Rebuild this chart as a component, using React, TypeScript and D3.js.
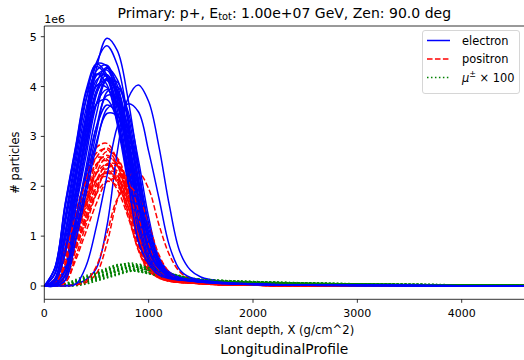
import React from 'react';
import * as d3 from 'd3';

// slant depth grid (g/cm^2) shared by all profiles
const X_GRID = [0, 100, 200, 300, 400, 500, 600, 700, 800, 900, 1000, 1100, 1200, 1300, 1400, 1500, 1700, 2000, 2500, 3000, 3500, 4000, 4600];

// electron profiles, units of 1e6 particles
const ELECTRON = [
  [0, 0.05, 0.40, 1.84, 3.13, 4.37, 4.97, 4.72, 3.78, 2.44, 1.04, 0.50, 0.25, 0.17, 0.14, 0.11, 0.07, 0.04, 0.022, 0.014, 0.010, 0.007, 0.005],
  [0, 0.10, 0.78, 2.12, 3.38, 4.48, 4.82, 4.43, 3.38, 2.02, 0.85, 0.41, 0.22, 0.16, 0.13, 0.10, 0.065, 0.038, 0.021, 0.013, 0.009, 0.006, 0.004],
  [0, 0.25, 1.39, 2.57, 3.73, 4.46, 4.41, 3.71, 2.55, 1.25, 0.55, 0.27, 0.17, 0.14, 0.11, 0.09, 0.06, 0.034, 0.019, 0.012, 0.008, 0.006, 0.004],
  [0, 0.14, 1.08, 2.25, 3.42, 4.32, 4.43, 3.92, 2.84, 1.53, 0.63, 0.32, 0.19, 0.14, 0.11, 0.09, 0.06, 0.035, 0.02, 0.013, 0.009, 0.006, 0.004],
  [0, 0.36, 1.65, 2.80, 3.92, 4.45, 4.23, 3.38, 2.18, 0.93, 0.45, 0.22, 0.16, 0.12, 0.10, 0.08, 0.055, 0.032, 0.018, 0.012, 0.008, 0.005, 0.003],
  [0, 0.09, 0.71, 1.92, 3.07, 4.07, 4.38, 4.02, 3.07, 1.83, 0.77, 0.38, 0.20, 0.15, 0.12, 0.09, 0.06, 0.035, 0.02, 0.013, 0.009, 0.006, 0.004],
  [0, 0.13, 1.06, 2.20, 3.34, 4.22, 4.33, 3.83, 2.77, 1.50, 0.62, 0.31, 0.18, 0.14, 0.11, 0.09, 0.06, 0.034, 0.02, 0.012, 0.008, 0.006, 0.004],
  [0, 0.04, 0.35, 1.61, 2.75, 3.84, 4.36, 4.14, 3.31, 2.14, 0.92, 0.44, 0.22, 0.15, 0.12, 0.10, 0.065, 0.037, 0.021, 0.013, 0.009, 0.006, 0.004],
  [0, 0.24, 1.32, 2.45, 3.55, 4.24, 4.20, 3.53, 2.42, 1.19, 0.52, 0.26, 0.16, 0.13, 0.10, 0.08, 0.055, 0.032, 0.018, 0.012, 0.008, 0.005, 0.003],
  [0, 0.13, 1.03, 2.15, 3.27, 4.13, 4.24, 3.74, 2.71, 1.46, 0.60, 0.30, 0.18, 0.13, 0.11, 0.09, 0.06, 0.034, 0.02, 0.012, 0.008, 0.006, 0.004],
  [0, 0, 0.01, 0.04, 0.13, 0.36, 1.20, 2.70, 3.75, 4.03, 3.70, 2.78, 1.60, 0.68, 0.32, 0.18, 0.09, 0.05, 0.028, 0.017, 0.011, 0.008, 0.005],
  [0, 0.09, 0.68, 1.86, 2.97, 3.93, 4.23, 3.89, 2.97, 1.77, 0.75, 0.36, 0.20, 0.14, 0.12, 0.09, 0.06, 0.034, 0.019, 0.012, 0.008, 0.005, 0.003],
  [0, 0.34, 1.57, 2.68, 3.74, 4.25, 4.04, 3.23, 2.08, 0.89, 0.43, 0.21, 0.15, 0.12, 0.09, 0.08, 0.05, 0.03, 0.017, 0.011, 0.008, 0.005, 0.003],
  [0, 0.02, 0.23, 1.29, 2.38, 3.46, 4.14, 4.09, 3.44, 2.36, 1.16, 0.51, 0.25, 0.16, 0.13, 0.10, 0.065, 0.037, 0.021, 0.013, 0.009, 0.006, 0.004],
  [0, 0.13, 1.00, 2.09, 3.18, 4.01, 4.12, 3.64, 2.63, 1.42, 0.59, 0.29, 0.18, 0.13, 0.10, 0.08, 0.055, 0.032, 0.018, 0.012, 0.008, 0.005, 0.003],
  [0, 0.04, 0.33, 1.54, 2.61, 3.65, 4.15, 3.94, 3.15, 2.03, 0.87, 0.42, 0.21, 0.15, 0.12, 0.09, 0.06, 0.035, 0.02, 0.013, 0.009, 0.006, 0.004],
  [0, 0.23, 1.25, 2.32, 3.36, 4.02, 3.98, 3.34, 2.30, 1.13, 0.49, 0.25, 0.16, 0.12, 0.10, 0.08, 0.05, 0.03, 0.017, 0.011, 0.007, 0.005, 0.003],
  [0, 0, 0.12, 0.97, 2.03, 3.08, 3.89, 3.99, 3.52, 2.55, 1.38, 0.57, 0.28, 0.17, 0.13, 0.10, 0.065, 0.037, 0.021, 0.013, 0.009, 0.006, 0.004],
  [0, 0.08, 0.64, 1.73, 2.77, 3.66, 3.94, 3.62, 2.77, 1.65, 0.70, 0.34, 0.18, 0.13, 0.11, 0.08, 0.055, 0.032, 0.018, 0.012, 0.008, 0.005, 0.003],
  [0, 0.02, 0.21, 1.19, 2.20, 3.20, 3.82, 3.78, 3.18, 2.18, 1.07, 0.47, 0.23, 0.15, 0.12, 0.09, 0.06, 0.035, 0.02, 0.013, 0.009, 0.006, 0.004],
  [0, 0.11, 0.91, 1.90, 2.89, 3.65, 3.74, 3.31, 2.39, 1.29, 0.53, 0.27, 0.16, 0.12, 0.10, 0.08, 0.05, 0.03, 0.017, 0.011, 0.007, 0.005, 0.003],
  [0, 0.04, 0.29, 1.34, 2.29, 3.19, 3.63, 3.45, 2.76, 1.78, 0.76, 0.36, 0.18, 0.13, 0.10, 0.08, 0.05, 0.03, 0.017, 0.011, 0.007, 0.005, 0.003],
  [0, 0.02, 0.19, 1.08, 1.99, 2.89, 3.46, 3.42, 2.88, 1.98, 0.97, 0.42, 0.21, 0.13, 0.11, 0.08, 0.05, 0.03, 0.017, 0.011, 0.007, 0.005, 0.003],
  [0, 0.35, 1.63, 2.77, 3.87, 4.40, 4.18, 3.34, 2.16, 0.92, 0.44, 0.22, 0.15, 0.12, 0.10, 0.08, 0.055, 0.032, 0.018, 0.012, 0.008, 0.005, 0.003],
  [0, 0.08, 0.67, 1.83, 2.92, 3.86, 4.16, 3.82, 2.92, 1.74, 0.74, 0.36, 0.19, 0.14, 0.11, 0.09, 0.06, 0.034, 0.019, 0.012, 0.008, 0.005, 0.003],
  [0, 0, 0.11, 0.89, 1.85, 2.81, 3.55, 3.64, 3.22, 2.33, 1.26, 0.52, 0.26, 0.16, 0.11, 0.09, 0.06, 0.034, 0.019, 0.012, 0.008, 0.005, 0.003],
  [0, 0, 0, 0.03, 0.40, 1.20, 2.20, 3.20, 3.65, 3.50, 2.70, 1.75, 0.80, 0.32, 0.17, 0.12, 0.075, 0.042, 0.023, 0.015, 0.01, 0.007, 0.005],
];

// positron profiles, units of 1e6 particles
const POSITRON = [
  [0, 0.09, 0.70, 1.45, 2.20, 2.78, 2.86, 2.52, 1.83, 0.99, 0.41, 0.20, 0.12, 0.09, 0.07, 0.06, 0.03, 0.016, 0.009, 0.005, 0.003, 0.002, 0.001],
  [0, 0.06, 0.45, 1.22, 1.95, 2.58, 2.77, 2.55, 1.95, 1.16, 0.49, 0.24, 0.13, 0.09, 0.08, 0.06, 0.03, 0.016, 0.009, 0.005, 0.003, 0.002, 0.001],
  [0, 0.03, 0.22, 1.00, 1.70, 2.38, 2.70, 2.57, 2.05, 1.32, 0.57, 0.27, 0.14, 0.09, 0.08, 0.06, 0.03, 0.016, 0.009, 0.005, 0.003, 0.002, 0.001],
  [0, 0.14, 0.80, 1.48, 2.15, 2.57, 2.54, 2.14, 1.47, 0.72, 0.31, 0.16, 0.10, 0.08, 0.06, 0.05, 0.028, 0.015, 0.008, 0.005, 0.003, 0.002, 0.001],
  [0, 0.08, 0.61, 1.28, 1.94, 2.45, 2.51, 2.22, 1.61, 0.87, 0.36, 0.18, 0.11, 0.08, 0.06, 0.05, 0.028, 0.015, 0.008, 0.005, 0.003, 0.002, 0.001],
  [0, 0.01, 0.14, 0.76, 1.41, 2.05, 2.45, 2.43, 2.04, 1.40, 0.69, 0.30, 0.15, 0.10, 0.08, 0.06, 0.03, 0.016, 0.009, 0.005, 0.003, 0.002, 0.001],
  [0, 0.05, 0.39, 1.07, 1.71, 2.26, 2.44, 2.24, 1.71, 1.02, 0.43, 0.21, 0.11, 0.08, 0.07, 0.05, 0.028, 0.015, 0.008, 0.005, 0.003, 0.002, 0.001],
  [0, 0.02, 0.19, 0.90, 1.52, 2.13, 2.42, 2.30, 1.84, 1.19, 0.51, 0.24, 0.12, 0.08, 0.07, 0.05, 0.028, 0.015, 0.008, 0.005, 0.003, 0.002, 0.001],
  [0, 0.07, 0.57, 1.19, 1.81, 2.28, 2.34, 2.07, 1.50, 0.81, 0.33, 0.17, 0.10, 0.07, 0.06, 0.05, 0.028, 0.015, 0.008, 0.005, 0.003, 0.002, 0.001],
  [0, 0.01, 0.13, 0.71, 1.32, 1.92, 2.29, 2.27, 1.91, 1.31, 0.64, 0.28, 0.14, 0.09, 0.07, 0.06, 0.03, 0.016, 0.009, 0.005, 0.003, 0.002, 0.001],
  [0, 0, 0.01, 0.02, 0.07, 0.25, 0.85, 1.72, 2.18, 2.28, 1.95, 1.22, 0.62, 0.28, 0.14, 0.08, 0.04, 0.02, 0.01, 0.006, 0.004, 0.002, 0.001],
  [0, 0.05, 0.37, 1.00, 1.60, 2.12, 2.28, 2.09, 1.60, 0.95, 0.40, 0.20, 0.11, 0.08, 0.06, 0.05, 0.028, 0.015, 0.008, 0.005, 0.003, 0.002, 0.001],
  [0, 0.02, 0.18, 0.84, 1.42, 1.99, 2.26, 2.15, 1.72, 1.11, 0.47, 0.23, 0.11, 0.08, 0.06, 0.05, 0.028, 0.015, 0.008, 0.005, 0.003, 0.002, 0.001],
  [0, 0.07, 0.53, 1.11, 1.69, 2.13, 2.19, 1.93, 1.40, 0.75, 0.31, 0.16, 0.09, 0.07, 0.06, 0.04, 0.025, 0.014, 0.008, 0.005, 0.003, 0.002, 0.001],
  [0, 0, 0.07, 0.52, 1.09, 1.66, 2.09, 2.15, 1.90, 1.37, 0.74, 0.31, 0.15, 0.09, 0.07, 0.05, 0.028, 0.015, 0.008, 0.005, 0.003, 0.002, 0.001],
  [0, 0.05, 0.42, 1.15, 1.84, 2.44, 2.62, 2.41, 1.84, 1.10, 0.46, 0.23, 0.12, 0.09, 0.07, 0.06, 0.03, 0.016, 0.009, 0.005, 0.003, 0.002, 0.001],
  [0, 0, 0.07, 0.59, 1.23, 1.86, 2.35, 2.41, 2.13, 1.54, 0.83, 0.34, 0.17, 0.10, 0.08, 0.06, 0.03, 0.016, 0.009, 0.005, 0.003, 0.002, 0.001],
  [0, 0.02, 0.17, 0.78, 1.32, 1.85, 2.10, 2.00, 1.60, 1.03, 0.44, 0.21, 0.11, 0.07, 0.06, 0.05, 0.025, 0.014, 0.008, 0.005, 0.003, 0.002, 0.001],
  [0, 0.03, 0.21, 0.95, 1.63, 2.27, 2.58, 2.45, 1.96, 1.26, 0.54, 0.26, 0.13, 0.09, 0.07, 0.06, 0.03, 0.016, 0.009, 0.005, 0.003, 0.002, 0.001],
  [0, 0.08, 0.67, 1.39, 2.11, 2.67, 2.74, 2.42, 1.75, 0.95, 0.39, 0.19, 0.12, 0.09, 0.07, 0.06, 0.03, 0.016, 0.009, 0.005, 0.003, 0.002, 0.001],
  [0, 0, 0, 0.02, 0.10, 0.40, 1.05, 1.75, 2.00, 1.80, 1.25, 0.62, 0.27, 0.13, 0.08, 0.06, 0.03, 0.016, 0.009, 0.005, 0.003, 0.002, 0.001],
];

// muon profiles multiplied by 100, units of 1e6
const MUON_X100 = [
  [0, 0, 0.01, 0.06, 0.14, 0.22, 0.30, 0.39, 0.46, 0.44, 0.40, 0.33, 0.26, 0.20, 0.16, 0.14, 0.115, 0.092, 0.064, 0.046, 0.035, 0.025, 0.018],
  [0, 0.004, 0.026, 0.09, 0.17, 0.25, 0.33, 0.41, 0.44, 0.40, 0.35, 0.28, 0.22, 0.17, 0.14, 0.125, 0.108, 0.086, 0.059, 0.043, 0.032, 0.024, 0.018],
  [0, 0, 0.004, 0.025, 0.09, 0.16, 0.24, 0.32, 0.39, 0.42, 0.39, 0.33, 0.26, 0.21, 0.16, 0.14, 0.11, 0.086, 0.061, 0.044, 0.032, 0.024, 0.017],
  [0, 0, 0.01, 0.05, 0.12, 0.19, 0.26, 0.34, 0.40, 0.38, 0.34, 0.28, 0.22, 0.17, 0.14, 0.12, 0.10, 0.08, 0.056, 0.04, 0.03, 0.022, 0.016],
  [0, 0.008, 0.046, 0.11, 0.18, 0.25, 0.32, 0.38, 0.36, 0.33, 0.27, 0.21, 0.16, 0.13, 0.11, 0.10, 0.09, 0.072, 0.049, 0.036, 0.027, 0.02, 0.014],
  [0, 0, 0, 0.007, 0.043, 0.11, 0.17, 0.24, 0.30, 0.36, 0.35, 0.31, 0.26, 0.20, 0.155, 0.126, 0.097, 0.077, 0.054, 0.039, 0.029, 0.022, 0.015],
  [0, 0.003, 0.02, 0.07, 0.13, 0.19, 0.255, 0.32, 0.34, 0.31, 0.27, 0.21, 0.17, 0.13, 0.11, 0.097, 0.083, 0.066, 0.046, 0.033, 0.025, 0.018, 0.014],
  [0, 0, 0.003, 0.019, 0.067, 0.125, 0.18, 0.24, 0.30, 0.32, 0.29, 0.25, 0.20, 0.16, 0.125, 0.104, 0.083, 0.066, 0.046, 0.034, 0.025, 0.018, 0.013],
  [0, 0.009, 0.05, 0.13, 0.21, 0.28, 0.36, 0.43, 0.41, 0.37, 0.31, 0.24, 0.18, 0.15, 0.13, 0.116, 0.10, 0.082, 0.056, 0.041, 0.03, 0.022, 0.016],
  [0, 0, 0.006, 0.036, 0.09, 0.14, 0.20, 0.25, 0.30, 0.29, 0.26, 0.21, 0.17, 0.13, 0.105, 0.09, 0.075, 0.06, 0.042, 0.03, 0.023, 0.017, 0.012],
  [0, 0.004, 0.025, 0.086, 0.16, 0.23, 0.31, 0.385, 0.41, 0.38, 0.32, 0.26, 0.20, 0.16, 0.13, 0.117, 0.10, 0.08, 0.055, 0.04, 0.03, 0.022, 0.016],
  [0, 0, 0.007, 0.044, 0.11, 0.18, 0.24, 0.31, 0.37, 0.355, 0.32, 0.26, 0.21, 0.16, 0.13, 0.11, 0.093, 0.074, 0.052, 0.037, 0.028, 0.02, 0.015],
  [0, 0.007, 0.042, 0.105, 0.17, 0.23, 0.29, 0.35, 0.34, 0.30, 0.25, 0.20, 0.15, 0.12, 0.105, 0.095, 0.082, 0.067, 0.046, 0.033, 0.025, 0.018, 0.013],
  [0, 0, 0.004, 0.023, 0.082, 0.15, 0.22, 0.29, 0.37, 0.39, 0.36, 0.31, 0.25, 0.19, 0.15, 0.127, 0.10, 0.08, 0.057, 0.041, 0.03, 0.022, 0.016],
  [0, 0, 0, 0.007, 0.04, 0.10, 0.16, 0.22, 0.28, 0.33, 0.32, 0.28, 0.23, 0.18, 0.14, 0.115, 0.09, 0.071, 0.05, 0.036, 0.026, 0.02, 0.014],
  [0, 0.005, 0.027, 0.095, 0.175, 0.26, 0.34, 0.42, 0.445, 0.41, 0.36, 0.28, 0.22, 0.175, 0.146, 0.128, 0.11, 0.088, 0.061, 0.044, 0.033, 0.024, 0.018],
  [0, 0.003, 0.019, 0.065, 0.12, 0.18, 0.23, 0.29, 0.31, 0.285, 0.245, 0.195, 0.15, 0.12, 0.10, 0.088, 0.076, 0.06, 0.042, 0.03, 0.023, 0.017, 0.012],
  [0, 0, 0.004, 0.024, 0.084, 0.156, 0.23, 0.30, 0.38, 0.40, 0.37, 0.32, 0.25, 0.20, 0.156, 0.13, 0.104, 0.082, 0.058, 0.042, 0.031, 0.023, 0.016],
];

const X_TICKS = [0, 1000, 2000, 3000, 4000];
const Y_TICKS = [0, 1, 2, 3, 4, 5];

const FONT = 'DejaVu Sans, sans-serif';

export default function App() {
  const W = 524;
  const H = 360;
  const left = 44.3;
  const top = 26;
  const bottom = 299.3;
  const right = 524.3;

  const x = d3.scaleLinear().domain([0, 4000]).range([44.3, 461.7]);
  const y = d3.scaleLinear().domain([0, 5]).range([286, 36.7]);

  const line = d3
    .line<number>()
    .x((_, i) => x(X_GRID[i]))
    .y((d) => y(d))
    .curve(d3.curveCatmullRom.alpha(0.5));

  const n = Math.max(ELECTRON.length, POSITRON.length, MUON_X100.length);
  const paths: React.ReactNode[] = [];
  for (let i = 0; i < n; i++) {
    if (ELECTRON[i]) {
      paths.push(
        <path key={'e' + i} d={line(ELECTRON[i]) || ''} fill="none" stroke="#0000ff" strokeWidth={1.5} />
      );
    }
    if (POSITRON[i]) {
      paths.push(
        <path key={'p' + i} d={line(POSITRON[i]) || ''} fill="none" stroke="#ff0000" strokeWidth={1.5} strokeDasharray="5.55 2.4" />
      );
    }
    if (MUON_X100[i]) {
      paths.push(
        <path key={'m' + i} d={line(MUON_X100[i]) || ''} fill="none" stroke="#008000" strokeWidth={1.5} strokeDasharray="1.5 2.475" />
      );
    }
  }

  return (
    <svg
      width={W}
      height={H}
      viewBox={`0 0 ${W} ${H}`}
      style={{ position: 'absolute', left: 0, top: 0, background: '#fff' }}
      fontFamily={FONT}
    >
      <rect x={0} y={0} width={W} height={H} fill="#fff" />
      <defs>
        <clipPath id="plotclip">
          <rect x={left} y={top} width={right - left} height={bottom - top} />
        </clipPath>
      </defs>

      {/* title */}
      <text x={284.3} y={17.5} textAnchor="middle" fontSize={14} fill="#000">
        Primary: p+, E<tspan fontSize={9.8} dy={2.8}>tot</tspan>
        <tspan dy={-2.8}>: 1.00e+07 GeV, Zen: 90.0 deg</tspan>
      </text>

      <g clipPath="url(#plotclip)">{paths}</g>

      {/* spines */}
      <line x1={left} y1={top} x2={right} y2={top} stroke="#000" strokeWidth={0.8} />
      <line x1={left} y1={top} x2={left} y2={bottom} stroke="#000" strokeWidth={0.8} />
      <line x1={left} y1={bottom} x2={right} y2={bottom} stroke="#000" strokeWidth={0.8} />

      {/* y ticks */}
      {Y_TICKS.map((t) => (
        <g key={'yt' + t}>
          <line x1={left - 3.5} x2={left} y1={y(t)} y2={y(t)} stroke="#000" strokeWidth={0.8} />
          <text x={left - 7.5} y={y(t) + 4} textAnchor="end" fontSize={11} fill="#000">
            {t}
          </text>
        </g>
      ))}
      <text x={left} y={23} fontSize={11} fill="#000">1e6</text>

      {/* x ticks */}
      {X_TICKS.map((t) => (
        <g key={'xt' + t}>
          <line x1={x(t)} x2={x(t)} y1={bottom} y2={bottom + 3.5} stroke="#000" strokeWidth={0.8} />
          <text x={x(t)} y={317} textAnchor="middle" fontSize={11} fill="#000">
            {t}
          </text>
        </g>
      ))}

      <text x={284.3} y={334} textAnchor="middle" fontSize={11.6} fill="#000">
        slant depth, X (g/cm^2)
      </text>
      <text transform={`translate(19,162.6) rotate(-90)`} textAnchor="middle" fontSize={11.4} fill="#000">
        # particles
      </text>
      <text x={284.3} y={353.5} textAnchor="middle" fontSize={13.8} fill="#000">
        LongitudinalProfile
      </text>

      {/* legend */}
      <g>
        <rect x={422.5} y={30.5} width={97} height={63} rx={2.5} ry={2.5} fill="#fff" fillOpacity={0.8} stroke="#cccccc" strokeWidth={0.8} />
        <line x1={427} x2={450} y1={40.5} y2={40.5} stroke="#0000ff" strokeWidth={1.5} />
        <text x={462} y={44.5} fontSize={11.4} fill="#000">electron</text>
        <line x1={427} x2={450} y1={59} y2={59} stroke="#ff0000" strokeWidth={1.5} strokeDasharray="5.55 2.4" />
        <text x={462} y={63} fontSize={11.4} fill="#000">positron</text>
        <line x1={427} x2={450} y1={77.5} y2={77.5} stroke="#008000" strokeWidth={1.5} strokeDasharray="1.5 2.475" />
        <text x={462} y={81.5} fontSize={11.4} fill="#000">
          <tspan fontStyle="italic">μ</tspan>
          <tspan fontSize={8} dy={-4.5}>±</tspan>
          <tspan dy={4.5}> × 100</tspan>
        </text>
      </g>
    </svg>
  );
}
